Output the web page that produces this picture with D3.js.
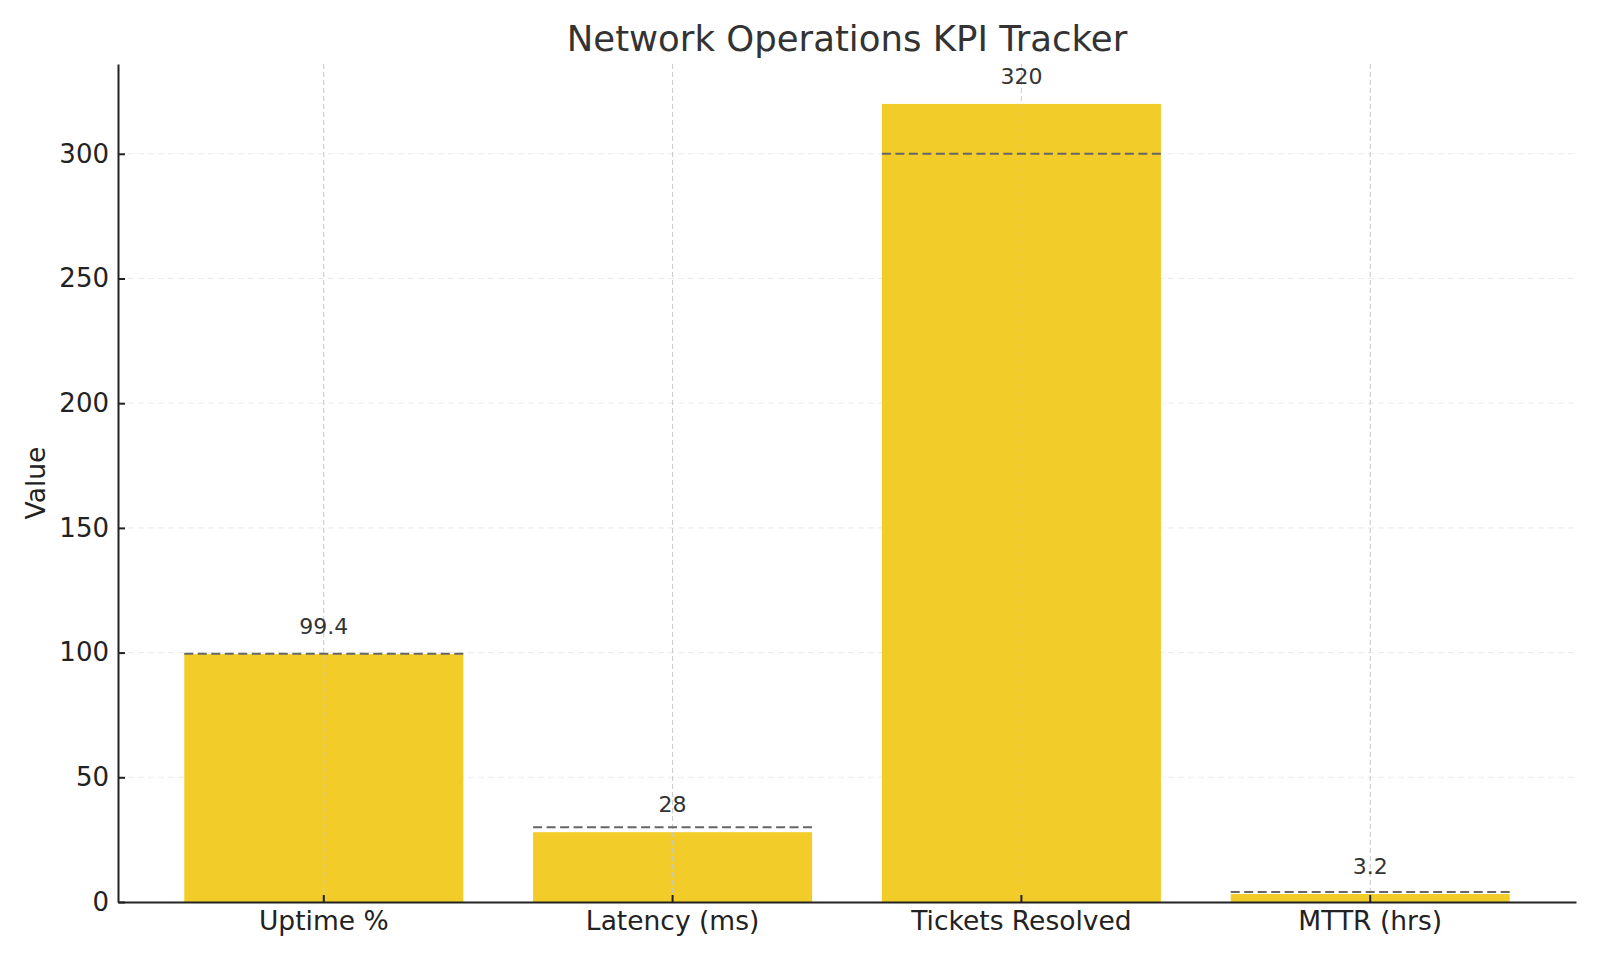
<!DOCTYPE html>
<html>
<head>
<meta charset="utf-8">
<script src="https://cdn.jsdelivr.net/npm/d3@7"></script>
<style>
  html, body { margin: 0; padding: 0; background: #fff; }
  svg { display: block; font-family: "DejaVu Sans", sans-serif; }
</style>
</head>
<body>
<svg id="chart" width="1600" height="960"></svg>
<script>
const categories = ["Uptime %", "Latency (ms)", "Tickets Resolved", "MTTR (hrs)"];
const values = [99.4, 28, 320, 3.2];
const targets = [99.5, 30, 300, 4];
const valueLabels = ["99.4", "28", "320", "3.2"];
const yTicks = [0, 50, 100, 150, 200, 250, 300];

const plotLeft = 118, plotRight = 1576, plotTop = 64, plotBottom = 902;

const svg = d3.select("#chart");

const x = d3.scaleBand().domain(categories).range([plotLeft, plotRight]).paddingInner(0.2).paddingOuter(0.19);
const y = d3.scaleLinear().domain([0, 336]).range([plotBottom, plotTop]);

// horizontal grid (behind bars)
svg.append("g").selectAll("line").data(yTicks.filter(d => d > 0)).join("line")
  .attr("x1", plotLeft).attr("x2", plotRight)
  .attr("y1", d => y(d)).attr("y2", d => y(d))
  .attr("stroke", "#ebebeb").attr("stroke-width", 1).attr("stroke-dasharray", "6,4");

// bars
svg.append("g").selectAll("rect").data(categories).join("rect")
  .attr("x", d => x(d)).attr("width", x.bandwidth())
  .attr("y", (d, i) => y(values[i])).attr("height", (d, i) => y(0) - y(values[i]))
  .attr("fill", "#f2cd2a");

// vertical grid (on top of bars)
svg.append("g").selectAll("line").data(categories).join("line")
  .attr("x1", d => x(d) + x.bandwidth() / 2).attr("x2", d => x(d) + x.bandwidth() / 2)
  .attr("y1", plotTop).attr("y2", plotBottom)
  .attr("stroke", "#c8c8c8").attr("stroke-width", 1).attr("stroke-dasharray", "5,3");

// target lines
svg.append("g").selectAll("line").data(categories).join("line")
  .attr("x1", d => x(d)).attr("x2", d => x(d) + x.bandwidth())
  .attr("y1", (d, i) => y(targets[i])).attr("y2", (d, i) => y(targets[i]))
  .attr("stroke", "#666666").attr("stroke-width", 2).attr("stroke-dasharray", "9,4.5");

// value labels
svg.append("g").selectAll("text").data(categories).join("text")
  .attr("x", d => x(d) + x.bandwidth() / 2)
  .attr("y", (d, i) => y(values[i]) - 20)
  .attr("text-anchor", "middle")
  .attr("font-size", 22).attr("fill", "#333333")
  .text((d, i) => valueLabels[i]);

// axes
const xAxis = d3.axisBottom(x).tickSizeInner(-7).tickSizeOuter(0).tickPadding(9);
const gx = svg.append("g").attr("transform", `translate(0,${plotBottom})`).call(xAxis);
gx.select(".domain").attr("stroke", "#222").attr("stroke-width", 2);
gx.selectAll(".tick line").attr("stroke", "#222").attr("stroke-width", 2);
gx.selectAll(".tick text").attr("font-size", 26.5).attr("fill", "#222").attr("font-family", "DejaVu Sans");

const yAxis = d3.axisLeft(y).tickValues(yTicks).tickSizeInner(-7).tickSizeOuter(0).tickPadding(9);
const gy = svg.append("g").attr("transform", `translate(${plotLeft},0)`).call(yAxis);
gy.select(".domain").attr("stroke", "#222").attr("stroke-width", 2);
gy.selectAll(".tick line").attr("stroke", "#222").attr("stroke-width", 2);
gy.selectAll(".tick text").attr("font-size", 26).attr("fill", "#222").attr("font-family", "DejaVu Sans");

// y label
svg.append("text")
  .attr("transform", `translate(45,${(plotTop + plotBottom) / 2}) rotate(-90)`)
  .attr("text-anchor", "middle")
  .attr("font-size", 26.5).attr("fill", "#222")
  .text("Value");

// title
svg.append("text")
  .attr("x", (plotLeft + plotRight) / 2).attr("y", 51)
  .attr("text-anchor", "middle")
  .attr("font-size", 35.5).attr("fill", "#333333")
  .text("Network Operations KPI Tracker");
</script>
</body>
</html>
